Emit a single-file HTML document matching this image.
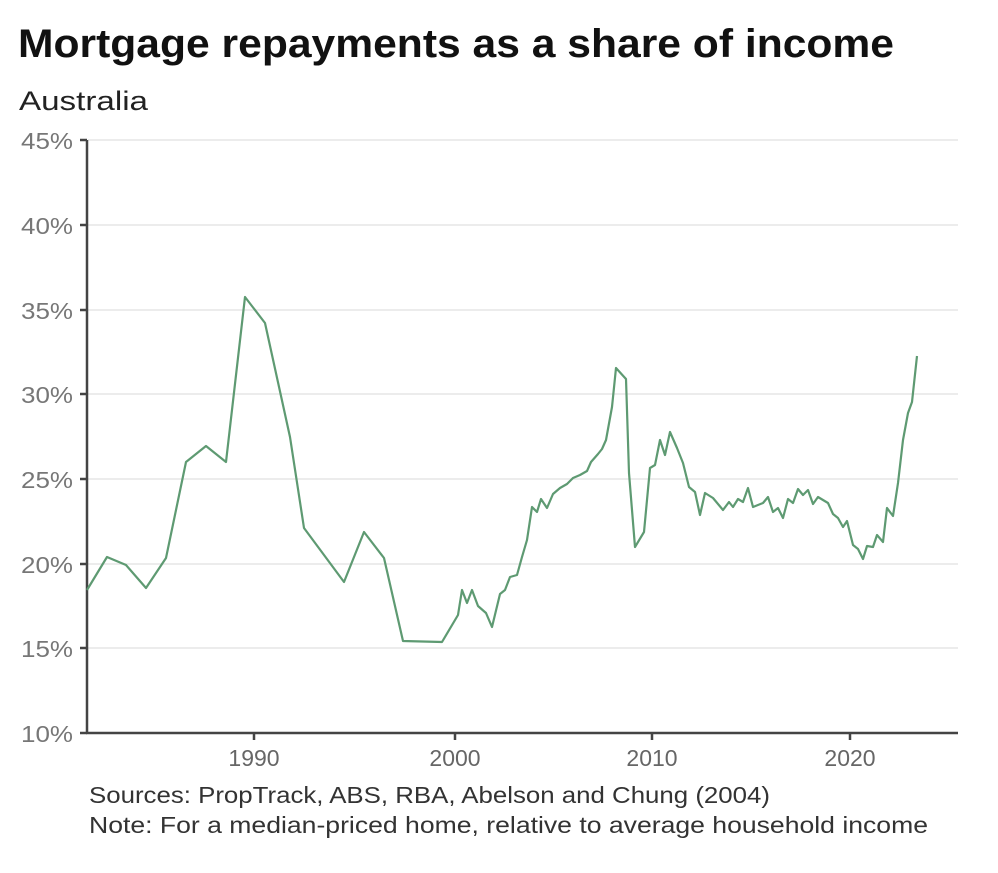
<!DOCTYPE html>
<html><head><meta charset="utf-8"><style>
body{margin:0;background:#fff;width:998px;height:868px;overflow:hidden;font-family:"Liberation Sans",sans-serif}
</style></head><body>
<svg width="998" height="868" xmlns="http://www.w3.org/2000/svg" font-family="Liberation Sans, sans-serif">
<text x="18" y="57" font-size="40" font-weight="bold" fill="#111" textLength="876" lengthAdjust="spacingAndGlyphs">Mortgage repayments as a share of income</text>
<text x="19" y="110" font-size="27" fill="#222" textLength="129" lengthAdjust="spacingAndGlyphs">Australia</text>
<g stroke="#e6e6e6" stroke-width="1.5">
<line x1="88" y1="140" x2="958" y2="140"/><line x1="88" y1="225" x2="958" y2="225"/>
<line x1="88" y1="310" x2="958" y2="310"/><line x1="88" y1="394" x2="958" y2="394"/>
<line x1="88" y1="479" x2="958" y2="479"/><line x1="88" y1="564" x2="958" y2="564"/>
<line x1="88" y1="648" x2="958" y2="648"/>
</g>
<g font-size="23" fill="#777" text-anchor="end">
<text x="73" y="149" textLength="52" lengthAdjust="spacingAndGlyphs">45%</text><text x="73" y="234" textLength="52" lengthAdjust="spacingAndGlyphs">40%</text><text x="73" y="319" textLength="52" lengthAdjust="spacingAndGlyphs">35%</text>
<text x="73" y="403" textLength="52" lengthAdjust="spacingAndGlyphs">30%</text><text x="73" y="488" textLength="52" lengthAdjust="spacingAndGlyphs">25%</text><text x="73" y="573" textLength="52" lengthAdjust="spacingAndGlyphs">20%</text>
<text x="73" y="657" textLength="52" lengthAdjust="spacingAndGlyphs">15%</text><text x="73" y="742" textLength="52" lengthAdjust="spacingAndGlyphs">10%</text>
</g>
<g stroke="#444" stroke-width="2.5">
<line x1="87" y1="140" x2="87" y2="734"/><line x1="86" y1="733" x2="958" y2="733"/>
<line x1="80" y1="140" x2="87" y2="140"/><line x1="80" y1="225" x2="87" y2="225"/>
<line x1="80" y1="310" x2="87" y2="310"/><line x1="80" y1="394" x2="87" y2="394"/>
<line x1="80" y1="479" x2="87" y2="479"/><line x1="80" y1="564" x2="87" y2="564"/>
<line x1="80" y1="648" x2="87" y2="648"/><line x1="80" y1="733" x2="87" y2="733"/>
<line x1="254" y1="733" x2="254" y2="740"/><line x1="455" y1="733" x2="455" y2="740"/>
<line x1="652" y1="733" x2="652" y2="740"/><line x1="850" y1="733" x2="850" y2="740"/>
</g>
<g font-size="23" fill="#666" text-anchor="middle">
<text x="254" y="766">1990</text><text x="455" y="766">2000</text><text x="652" y="766">2010</text><text x="850" y="766">2020</text>
</g>
<polyline fill="none" stroke="#5e9a72" stroke-width="2.2" stroke-linejoin="round" points="
87,590 107,557 126,565 146,588 166,558 186,462 206,446 226,462 245,297 265,323 290,437 304,528 344,582 364,532 384,558 403,641 442,642 458,615 462,590 467,603 472,590 478,606 486,613 492,627 500,594 505,590 510,577 517,575 522,557 527,540 532,507 537,512 541,499 547,508 553,494 560,488 567,484 573,478 580,475 587,471 591,462 598,454 602,449 606,440 612,407 616,368 626,379 629,473 635,547 644,532 650,468 655,465 660,440 665,455 670,432 677,448 683,463 689,487 695,492 700,515 705,493 713,498 723,510 729,502 733,507 738,499 743,502 748,488 753,507 763,503 768,497 773,512 778,508 783,518 788,499 793,503 798,489 803,495 808,490 813,504 818,497 828,503 833,514 838,518 843,527 847,521 853,545 858,549 863,559 867,546 873,547 877,535 883,542 887,508 893,516 898,483 903,440 908,413 912,402 917,356"/>
<text x="89" y="803" font-size="23" fill="#333" textLength="681" lengthAdjust="spacingAndGlyphs">Sources: PropTrack, ABS, RBA, Abelson and Chung (2004)</text>
<text x="89" y="833" font-size="23" fill="#333" textLength="839" lengthAdjust="spacingAndGlyphs">Note: For a median-priced home, relative to average household income</text>
</svg>
</body></html>
